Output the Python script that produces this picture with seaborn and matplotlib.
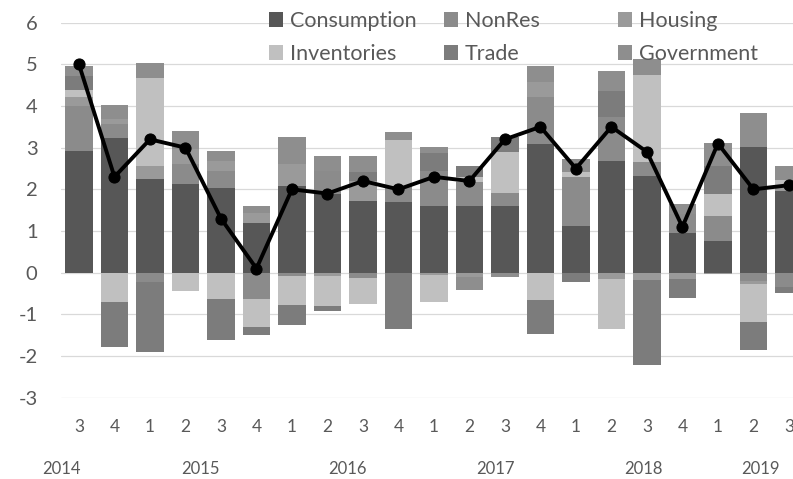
import numpy as np
import matplotlib
matplotlib.use('Agg')
import matplotlib.pyplot as plt
import seaborn as sns

# quarters 2014Q3 .. 2019Q3
quarters = ['3', '4', '1', '2', '3', '4', '1', '2', '3', '4', '1',
            '2', '3', '4', '1', '2', '3', '4', '1', '2', '3']
years = ['2014', '2015', '2016', '2017', '2018', '2019']

# contributions to GDP growth (pct points)
consumption = [2.92, 3.24, 2.24, 2.13, 2.03, 1.19, 2.09, 1.89, 1.73, 1.69, 1.61,
               1.61, 1.59, 3.09, 1.13, 2.69, 2.31, 0.95, 0.75, 3.01, 1.97]
nonres = [1.09, 0.33, -0.22, 0.48, 0.40, -0.64, -0.08, 0.56, -0.12, 0.40, 0.84,
          0.56, 0.32, 1.12, 1.16, 1.04, 0.34, 0.45, 0.62, -0.20, -0.35]
housing = [0.20, 0.12, 0.33, 0.36, 0.25, 0.25, 0.52, -0.08, 0.48, 0.00, -0.06,
           -0.10, 0.00, 0.36, 0.00, -0.16, -0.18, -0.15, -0.03, -0.06, 0.14]
inventories = [0.17, -0.70, 2.11, -0.44, -0.64, -0.66, -0.69, -0.72, -0.62, 1.10, -0.64,
               0.12, 0.98, -0.66, 0.12, -1.20, 2.10, 0.00, 0.52, -0.92, 0.12]
trade = [0.35, -1.08, -1.69, 0.00, -0.98, -0.20, -0.49, -0.12, 0.20, -1.34, 0.42,
         0.26, 0.36, -0.80, -0.22, 0.64, -2.04, -0.46, 0.68, -0.68, -0.14]
government = [0.22, 0.34, 0.36, 0.43, 0.23, 0.16, 0.64, 0.36, 0.40, 0.18, 0.14,
              -0.32, -0.10, 0.40, 0.32, 0.46, 0.37, 0.25, 0.54, 0.82, 0.34]
gdp = [5.0, 2.3, 3.2, 3.0, 1.3, 0.1, 2.0, 1.9, 2.2, 2.0, 2.3,
       2.2, 3.2, 3.5, 2.5, 3.5, 2.9, 1.1, 3.1, 2.0, 2.1]

sns.set_style('white')
plt.rcParams['font.family'] = ['Lato', 'DejaVu Sans']
plt.rcParams['axes.unicode_minus'] = False

txt = '#595959'
series = [('Consumption', consumption, '#575757'),
          ('NonRes', nonres, '#8b8b8b'),
          ('Housing', housing, '#9a9a9a'),
          ('Inventories', inventories, '#c0c0c0'),
          ('Trade', trade, '#7c7c7c'),
          ('Government', government, '#8e8e8e')]

fig = plt.figure(figsize=(7.93, 4.79), dpi=100)
# plot area runs past the right edge, like the cropped original
ax = fig.add_axes([0.0772, 0.1697, 0.940, 0.783])

x = np.arange(len(quarters))
pos_base = np.zeros(len(x))
neg_base = np.zeros(len(x))
handles = []
for name, vals, col in series:
    v = np.array(vals)
    bottom = np.where(v >= 0, pos_base, neg_base)
    h = ax.bar(x, v, bottom=bottom, width=0.77, color=col, linewidth=0, label=name, zorder=2)
    handles.append(h)
    pos_base = pos_base + np.clip(v, 0, None)
    neg_base = neg_base + np.clip(v, None, 0)

sns.lineplot(x=x, y=gdp, ax=ax, color='black', linewidth=2.8, marker='o',
             markersize=8, markeredgecolor='black', zorder=4, legend=False)

ax.set_xlim(-0.5, len(x) - 0.5)
ax.set_ylim(-3, 6)
ax.set_yticks(range(-3, 7))
ax.grid(axis='y', color='#d9d9d9', linewidth=0.9)
ax.grid(axis='x', visible=False)
ax.set_axisbelow(True)
sns.despine(ax=ax, left=True, bottom=True, right=True, top=True)

ax.set_xticks(x)
ax.set_xticklabels(quarters)
ax.tick_params(axis='x', length=0, pad=15, labelsize=12.5, labelcolor=txt)
ax.tick_params(axis='y', length=0, pad=17, labelsize=14.5, labelcolor=txt)
ax.set_xlabel('')
ax.set_ylabel('')

year_pos = [-0.48, 3.41, 7.56, 11.74, 15.89, 19.21]
for xp, yr in zip(year_pos, years):
    ax.text(xp, -0.19, yr, transform=ax.get_xaxis_transform(), ha='center',
            va='center', fontsize=12, color=txt)

# legend: three columns, each its own legend so they line up like the original
col_x = [269, 444, 618]
for k, left in enumerate(col_x):
    hs = [handles[k], handles[k + 3]]
    leg = ax.legend(hs, [series[k][0], series[k + 3][0]], loc='upper left',
                    bbox_to_anchor=(left / 793, 1 - 11 / 479), bbox_transform=fig.transFigure,
                    frameon=False, fontsize=15.5, handlelength=0.66, handleheight=0.66,
                    handletextpad=0.3, labelspacing=0.6, borderpad=0, borderaxespad=0,
                    labelcolor=txt)
    if k < 2:
        ax.add_artist(leg)

fig.savefig('out.png', dpi=100)
